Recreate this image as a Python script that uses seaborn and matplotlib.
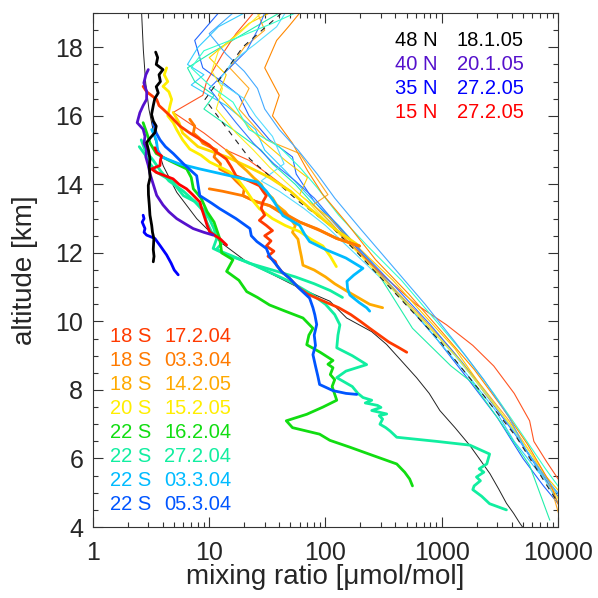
import matplotlib
matplotlib.use("Agg")
import matplotlib.pyplot as plt
import seaborn as sns
from matplotlib.ticker import FixedLocator, LogLocator, NullFormatter, MultipleLocator

sns.set_theme(style="ticks")
plt.rcParams['font.family'] = ['Liberation Sans', 'DejaVu Sans']

# ---- legend text ----
north_sites = ["48 N", "40 N", "35 N", "15 N"]
north_dates = ["18.1.05", "20.1.05", "27.2.05", "27.2.05"]
north_colors = ["#000000", "#5511cc", "#0000ff", "#ff0000"]

south_sites = ["18 S", "18 S", "18 S", "20 S", "22 S", "22 S", "22 S", "22 S"]
south_dates = ["17.2.04", "03.3.04", "14.2.05", "15.2.05", "16.2.04", "27.2.04", "03.3.04", "05.3.04"]
south_colors = ["#ff3a00", "#ff7a00", "#ffaa00", "#ffee00", "#11dd11", "#11eea0", "#00bbff", "#0055ff"]

x_ticks = [1, 10, 100, 1000, 10000]
x_tick_labels = ["1", "10", "100", "1000", "10000"]
y_ticks = [4, 6, 8, 10, 12, 14, 16, 18]

# ---- thick in-situ profiles (mixing ratio, altitude) ----
n48_val = [3.46, 3.6, 3.5, 4.0, 3.7, 3.8, 3.5, 3.64, 3.4, 3.3, 3.19, 3.3, 3.5, 3.41, 3.1, 2.89, 3.0, 3.09,
           3.05, 3.1, 2.99, 3.0, 3.05, 3.09, 3.2, 3.25, 3.34, 3.3, 3.35, 3.30]
n48_alt = [17.86, 17.7, 17.5, 17.35, 17.2, 17.0, 16.85, 16.67, 16.5, 16.3, 16.04, 15.85, 15.7, 15.51, 15.35,
           15.22, 15.0, 14.74, 14.5, 14.2, 13.97, 13.7, 13.4, 13.1, 12.8, 12.6, 12.42, 12.1, 11.9, 11.74]

n40_val = [2.99, 2.85, 2.74, 2.9, 2.89, 2.7, 2.53, 2.40, 2.70, 2.8, 2.75, 2.89, 2.85, 2.99, 3.1, 3.3, 3.53,
           4.0, 4.5, 5.25, 6.2, 7.27, 9.0, 10.8]
n40_alt = [17.35, 17.2, 16.96, 16.7, 16.48, 16.3, 16.09, 15.8, 15.61, 15.4, 15.2, 15.03, 14.8, 14.55, 14.3,
           14.0, 13.68, 13.4, 13.2, 13.0, 12.85, 12.71, 12.6, 12.52]

n35_val = [2.70, 2.75, 2.65, 2.80, 2.75, 2.89, 3.41, 3.8, 4.30, 4.7, 5.0, 5.41]
n35_alt = [13.1, 13.0, 12.9, 12.71, 12.6, 12.52, 12.42, 12.2, 11.94, 11.7, 11.5, 11.36]

n15_val = [3.41, 3.53, 3.89, 3.8, 3.77, 3.19, 3.5, 4.89, 5.5, 6.38, 7.2, 8.32, 8.6, 9.19, 9.6, 10.1, 12.5, 14.1]
n15_alt = [15.07, 14.93, 14.83, 14.7, 14.55, 14.45, 14.35, 14.16, 14.0, 13.87, 13.7, 13.48, 13.3, 13.0, 12.8,
           12.61, 12.4, 12.23]

s1_val = [2.7, 2.9, 3.53, 3.7, 4.02, 4.6, 5.6, 6.8, 8.3, 10.0, 11.5, 14.0, 15.5, 17.0, 22, 27, 29, 31, 29, 28,
          30, 27, 31, 35, 30, 34, 31, 36, 32, 37, 38, 42, 49, 58, 70, 95, 130, 165, 200, 240, 290, 350, 420, 500]
s1_alt = [16.86, 16.7, 16.48, 16.3, 16.19, 16.0, 15.7, 15.5, 15.32, 15.15, 14.95, 14.74, 14.5, 14.25, 14.1,
          13.96, 13.8, 13.67, 13.5, 13.3, 13.1, 12.95, 12.8, 12.65, 12.5, 12.35, 12.2, 12.05, 11.9, 11.75, 11.64,
          11.45, 11.26, 11.0, 10.8, 10.6, 10.4, 10.2, 10.0, 9.8, 9.6, 9.4, 9.25, 9.1]

s2_val = [6.8, 7.5, 7.3, 8.2, 8.8, 11.6, 11.0, 12.5, 12.3, 15, 17, 20, 19.5, 25, 33, 40, 60, 85, 125, 160, 196]
s2_alt = [15.9, 15.7, 15.5, 15.35, 15.2, 15.0, 14.8, 14.6, 14.45, 14.3, 14.1, 13.87, 13.67, 13.5, 13.38, 13.2,
          12.9, 12.7, 12.42, 12.3, 12.2]
s2b_val = [10, 13, 19.5, 25, 33, 42, 60, 90, 125, 196]
s2b_alt = [13.87, 13.8, 13.67, 13.5, 13.38, 13.2, 12.9, 12.65, 12.42, 12.2]

s3_val = [14, 16, 18, 21, 24, 28, 30, 35, 38, 45, 50, 55, 52, 58, 60, 62, 64, 80, 100, 120, 150, 190, 240, 310]
s3_alt = [15.0, 14.8, 14.6, 14.4, 14.2, 14.0, 13.8, 13.6, 13.4, 13.2, 13.0, 12.8, 12.6, 12.4, 12.13, 11.9,
          11.64, 11.5, 11.3, 11.1, 10.9, 10.7, 10.5, 10.4]

s4_val = [4.3, 4.1, 4.4, 4.0, 4.5, 4.75, 4.6, 4.4, 4.9, 5.24, 5.9, 6.8, 8.5, 10.1, 12.5, 15, 18, 21, 24, 27,
          35, 45, 60, 75, 95, 110, 124]
s4_alt = [17.4, 17.2, 17.0, 16.86, 16.7, 16.48, 16.3, 16.0, 15.8, 15.6, 15.3, 15.03, 14.85, 14.65, 14.5, 14.36,
          14.1, 13.8, 13.5, 13.29, 13.0, 12.8, 12.62, 12.4, 12.2, 11.9, 11.6]
s4b_val = [4.9, 5.5, 5.9, 8.0, 14.2, 22, 33, 50, 73, 120, 196]
s4b_alt = [16.1, 15.8, 15.5, 15.1, 14.8, 14.5, 14.2, 13.8, 13.3, 12.7, 12.2]

s5_val = [2.7, 2.9, 3.1, 3.5, 4.5, 6.4, 7.0, 7.3, 8.5, 9.6, 11, 12.3, 12.8, 16, 14.1, 18, 21, 26, 33, 45, 64,
          78, 72, 69, 90, 116, 105, 116, 110, 120, 114, 125, 95, 69, 46, 52, 89, 109, 162, 250, 410, 480, 530, 560]
s5_alt = [15.8, 15.5, 15.2, 14.9, 14.7, 14.45, 14.2, 13.87, 13.6, 13.2, 12.9, 12.42, 12.0, 11.8, 11.46, 11.2,
          10.87, 10.7, 10.48, 10.3, 10.1, 9.8, 9.6, 9.32, 9.1, 8.86, 8.75, 8.65, 8.45, 8.3, 8.1, 7.7, 7.5, 7.29,
          7.1, 6.9, 6.71, 6.53, 6.33, 6.1, 5.84, 5.6, 5.4, 5.2]

s6_val = [2.5, 2.9, 3.1, 3.5, 4.9, 5.3, 6.0, 7.5, 8.8, 10, 11, 11.6, 10.8, 14, 21, 30, 49, 60, 78, 100, 120,
          133, 128, 125, 170, 226, 150, 125, 170, 190, 210, 250, 220, 280, 300, 250, 336, 290, 310, 294, 330,
          360, 410, 900, 1745, 2580, 2440, 2100, 2300, 1990, 2150, 1900, 1850, 2200, 2580, 3600]
s6_alt = [15.1, 14.8, 14.6, 14.36, 14.07, 13.9, 13.67, 13.5, 13.29, 13.0, 12.7, 12.42, 12.13, 11.95, 11.74,
          11.5, 11.17, 11.0, 10.77, 10.5, 10.2, 9.9, 9.6, 9.23, 9.0, 8.74, 8.55, 8.36, 8.1, 7.9, 7.78, 7.7,
          7.62, 7.55, 7.49, 7.4, 7.3, 7.25, 7.15, 7.0, 6.9, 6.8, 6.62, 6.5, 6.39, 6.13, 5.84, 5.7, 5.6, 5.46,
          5.35, 5.2, 5.09, 4.9, 4.68, 4.5]
s6b_val = [2.6, 2.8, 3.3, 3.8, 4.5, 6.0, 7.5, 9.0, 9.5, 10.5, 13, 11.5, 16, 22, 35, 55, 80, 110, 140]
s6b_alt = [15.3, 15.0, 14.7, 14.4, 14.1, 13.8, 13.5, 13.2, 12.9, 12.6, 12.3, 12.1, 11.9, 11.7, 11.5, 11.3,
           11.1, 10.9, 10.7]

s7_val = [3.2, 3.5, 3.6, 3.9, 5.5, 8.3, 13, 26, 31, 36, 43, 60, 66, 73, 100, 150, 210, 175, 153, 155, 162,
          195, 226, 240]
s7_alt = [15.6, 15.3, 15.0, 14.8, 14.6, 14.45, 14.3, 14.07, 13.8, 13.5, 13.09, 12.8, 12.55, 12.33, 12.1,
          11.85, 11.55, 11.35, 11.17, 10.95, 10.77, 10.55, 10.4, 10.3]

s8_val = [3.3, 3.5, 3.77, 4.2, 4.9, 6.0, 7.8, 8.0, 8.3, 10.5, 12.3, 17, 22.4, 23, 25.7, 31, 33, 38, 42, 49,
          60, 73, 78, 81, 84, 80, 82, 78, 82, 86, 89, 116, 150, 186]
s8_alt = [15.8, 15.5, 15.3, 15.1, 14.9, 14.6, 14.25, 14.0, 13.67, 13.45, 13.29, 13.0, 12.71, 12.5, 12.33,
          12.13, 11.9, 11.64, 11.45, 11.26, 10.95, 10.68, 10.4, 10.19, 9.91, 9.6, 9.3, 9.03, 8.7, 8.4, 8.16,
          7.98, 7.9, 7.87]

# ---- thin profiles ----
t1_val = [12, 7.5, 8.8, 12.8, 18, 22, 33, 52, 56, 80, 140, 260, 500, 900, 1700, 3000, 5000, 7500, 10500]
t1_alt = [19, 18.2, 17.4, 17.0, 16.6, 16.0, 15.3, 14.8, 14.3, 13.5, 12.6, 11.6, 10.5, 9.5, 8.3, 7.2, 6.0, 5.2, 4.6]
t2_val = [20, 12, 8, 6.5, 9, 7, 14, 25, 30, 45, 70, 130, 250, 480, 950, 1800, 2900, 4200, 6800, 10500]
t2_alt = [19, 18.6, 18.0, 17.5, 17.2, 16.9, 16.3, 15.6, 15.0, 14.4, 13.7, 12.8, 11.7, 10.6, 9.4, 8.3, 7.4,
          6.5, 5.6, 4.9]
t3_val = [40, 25, 10, 6.5, 7.5, 11, 9, 16, 28, 35, 55, 90, 150, 260, 560, 1200, 1850, 3300, 5700, 8500]
t3_alt = [19, 18.6, 17.8, 17.4, 17.0, 16.6, 16.2, 15.6, 15.0, 14.6, 14.0, 13.2, 12.4, 11.6, 9.8, 8.7, 8.2,
          7.0, 5.8, 4.2]
t4_val = [24, 17, 13, 9.5, 8.8, 4.9, 9, 14, 22, 32, 50, 85, 150, 300, 600, 1100, 1850, 2800, 4200, 5700,
          6200, 8000, 10500]
t4_alt = [19, 18.4, 17.8, 17.0, 16.6, 16.1, 15.5, 15.0, 14.7, 14.3, 13.8, 13.1, 12.4, 11.4, 10.5, 9.9, 9.3,
          8.7, 7.9, 7.1, 6.5, 5.9, 5.3]
t5_val = [33, 22, 15, 10, 14, 12, 18, 28, 45, 70, 60, 110, 200, 380, 700, 1300, 2300, 4000, 6500, 10500]
t5_alt = [19, 18.7, 18.2, 17.7, 17.2, 16.6, 16.0, 15.3, 14.7, 14.2, 13.7, 13.0, 12.1, 11.2, 10.2, 9.2, 8.0,
          6.9, 5.8, 5.0]
t6_val = [26, 30, 20, 15, 22, 18, 31, 60, 105, 78, 110, 170, 330, 640, 1200, 2100, 3800, 6000, 9000, 10500]
t6_alt = [19, 18.5, 18.0, 17.4, 16.8, 16.2, 15.3, 14.9, 13.7, 13.4, 12.9, 12.2, 11.2, 10.2, 9.2, 8.2, 7.1,
          6.1, 5.0, 4.2]
t7_val = [30, 26, 21, 14, 10, 13, 17, 24, 36, 55, 80, 120, 210, 400, 800, 1500, 2600, 4500, 7000, 10500]
t7_alt = [19, 18.5, 17.9, 17.3, 16.8, 16.3, 15.8, 15.2, 14.6, 14.1, 13.6, 12.9, 12.0, 11.0, 9.9, 8.8, 7.7,
          6.6, 5.6, 4.8]
t8_val = [45, 38, 25, 16, 12, 20, 25, 35, 44, 28, 40, 65, 100, 190, 360, 700, 1300, 2400, 4000, 6500, 10500]
t8_alt = [19, 18.6, 18.1, 17.6, 17.0, 16.5, 16.0, 15.4, 14.6, 14.1, 13.8, 13.3, 12.8, 11.9, 11.0, 10.0, 9.0,
          7.9, 6.9, 5.8, 4.6]
t9_val = [28, 18, 12, 10.5, 13, 11.5, 17, 24, 33, 48, 70, 110, 190, 360, 700, 1400, 2500, 4300, 7200, 10500]
t9_alt = [19, 18.4, 17.9, 17.3, 16.8, 16.2, 15.5, 15.0, 14.5, 14.0, 13.5, 12.8, 12.0, 11.0, 10.0, 8.9, 7.8,
          6.8, 5.7, 4.7]
t10_val = [55, 35, 18, 9, 7, 10, 16, 22, 40, 60, 85, 130, 230, 450, 850, 1600, 2800, 4700, 7800, 10500]
t10_alt = [19, 18.7, 18.3, 17.9, 17.4, 16.9, 16.4, 15.6, 15.1, 14.5, 13.9, 13.1, 12.2, 11.2, 10.1, 9.0, 7.9,
           6.8, 5.7, 5.1]
t11_val = [60, 48, 38, 30, 40, 35, 52, 70, 95, 150, 270, 520, 1000, 1900, 3300, 5500, 8500, 10500]
t11_alt = [19, 18.6, 18.2, 17.4, 16.6, 16.0, 15.2, 14.4, 13.7, 12.9, 11.8, 10.8, 9.7, 8.6, 7.5, 6.4, 5.3, 4.5]
t12_val = [16, 10, 14, 20, 26, 30, 40, 58, 85, 120, 200, 380, 720, 1300, 2300, 3800, 5200, 6000, 8000, 10500]
t12_alt = [19, 18.4, 17.8, 17.3, 16.8, 16.2, 15.6, 15.0, 14.3, 13.6, 12.7, 11.6, 10.5, 9.4, 8.3, 7.2, 6.3,
           6.0, 5.4, 4.9]

# ---- reference curves ----
ref_val = [2.62, 2.71, 2.84, 3.03, 3.41, 4.02, 5.25, 7.8, 12.4, 21, 35.5, 60, 109, 152, 250, 335, 450, 607,
           780, 963, 1300, 1745, 2150, 2594, 3100, 3605, 4150, 4697, 5200]
ref_alt = [19.0, 17.93, 16.96, 16.19, 15.32, 14.54, 13.77, 13.0, 12.32, 11.74, 11.36, 10.97, 10.59, 10.10,
           9.7, 9.33, 8.85, 8.36, 7.9, 7.40, 6.9, 6.38, 5.95, 5.56, 5.1, 4.69, 4.4, 4.11, 3.9]
mean_val = [42, 19.6, 9.2, 22.4, 60, 109, 185, 963, 2127, 4397, 8500, 11000]
mean_alt = [19.0, 18.02, 16.48, 14.74, 13.48, 12.81, 12.03, 9.43, 7.98, 6.62, 5.08, 4.5]

thin = [(t1_val, t1_alt, "#2266ff"), (t2_val, t2_alt, "#33ccff"), (t3_val, t3_alt, "#22eeaa"),
        (t4_val, t4_alt, "#ff5522"), (t5_val, t5_alt, "#ffcc00"), (t6_val, t6_alt, "#ffaa22"),
        (t7_val, t7_alt, "#3377ff"), (t8_val, t8_alt, "#55ddff"), (t9_val, t9_alt, "#ffee22"),
        (t10_val, t10_alt, "#33ffcc"), (t11_val, t11_alt, "#ff8800"), (t12_val, t12_alt, "#44aaff")]

thick = [(s4b_val, s4b_alt, "#ffdd00"), (s3_val, s3_alt, south_colors[2]), (s2_val, s2_alt, south_colors[1]),
         (s2b_val, s2b_alt, south_colors[1]), (s4_val, s4_alt, south_colors[3]),
         (s6b_val, s6b_alt, south_colors[5]), (s6_val, s6_alt, south_colors[5]),
         (s5_val, s5_alt, south_colors[4]), (s1_val, s1_alt, south_colors[0]),
         (s7_val, s7_alt, south_colors[6]), (s8_val, s8_alt, south_colors[7]),
         (n15_val, n15_alt, north_colors[3]), (n35_val, n35_alt, north_colors[2]),
         (n40_val, n40_alt, north_colors[1]), (n48_val, n48_alt, north_colors[0])]

fig = plt.figure(figsize=(5.98, 5.98), dpi=100)
ax = fig.add_axes([0.1555, 0.1187, 0.7776, 0.8595])

for v, a, c in thin:
    sns.lineplot(x=v, y=a, sort=False, estimator=None, color=c, lw=0.8, ax=ax)

sns.lineplot(x=ref_val, y=ref_alt, sort=False, estimator=None, color="#222222", lw=0.7, ax=ax)
sns.lineplot(x=mean_val, y=mean_alt, sort=False, estimator=None, color="#222222", lw=0.8,
             dashes=False, ax=ax).lines[-1].set_dashes((5, 5))

for v, a, c in thick:
    sns.lineplot(x=v, y=a, sort=False, estimator=None, color=c, lw=2.0, ax=ax)

ax.set_xscale("log")
ax.set_xlim(1, 10000)
ax.set_ylim(4, 19)

ax.xaxis.set_major_locator(FixedLocator(x_ticks))
ax.set_xticklabels(x_tick_labels)
ax.xaxis.set_minor_locator(LogLocator(base=10, subs=range(2, 10)))
ax.xaxis.set_minor_formatter(NullFormatter())
ax.yaxis.set_major_locator(FixedLocator(y_ticks))
ax.yaxis.set_minor_locator(MultipleLocator(0.5))

ax.tick_params(which="both", direction="in", top=True, right=True, color="#333333", width=0.8)
ax.tick_params(which="major", length=7.2, labelsize=18)
ax.tick_params(which="minor", length=3.6)
ax.tick_params(axis="x", pad=10)
ax.tick_params(axis="y", pad=7)
for sp in ax.spines.values():
    sp.set_linewidth(0.8)
    sp.set_color("#333333")

ax.set_xlabel("mixing ratio [\u03bcmol/mol]", fontsize=20)
ax.set_ylabel("altitude [km]", fontsize=20)
ax.xaxis.set_label_coords(0.5, -0.072)
ax.yaxis.set_label_coords(-0.118, 0.5)

# text legends
for i, (s, d, c) in enumerate(zip(north_sites, north_dates, north_colors)):
    y = 0.9475 - i * 0.0467
    ax.text(0.741, y, s, color=c, fontsize=14.5, ha="right", va="center", transform=ax.transAxes)
    ax.text(0.782, y, d, color=c, fontsize=14.5, ha="left", va="center", transform=ax.transAxes)

for i, (s, d, c) in enumerate(zip(south_sites, south_dates, south_colors)):
    y = 0.3716 - i * 0.0467
    ax.text(0.0366, y, s, color=c, fontsize=14.5, ha="left", va="center", transform=ax.transAxes)
    ax.text(0.1533, y, d, color=c, fontsize=14.5, ha="left", va="center", transform=ax.transAxes)

fig.savefig("out.png", dpi=100)
